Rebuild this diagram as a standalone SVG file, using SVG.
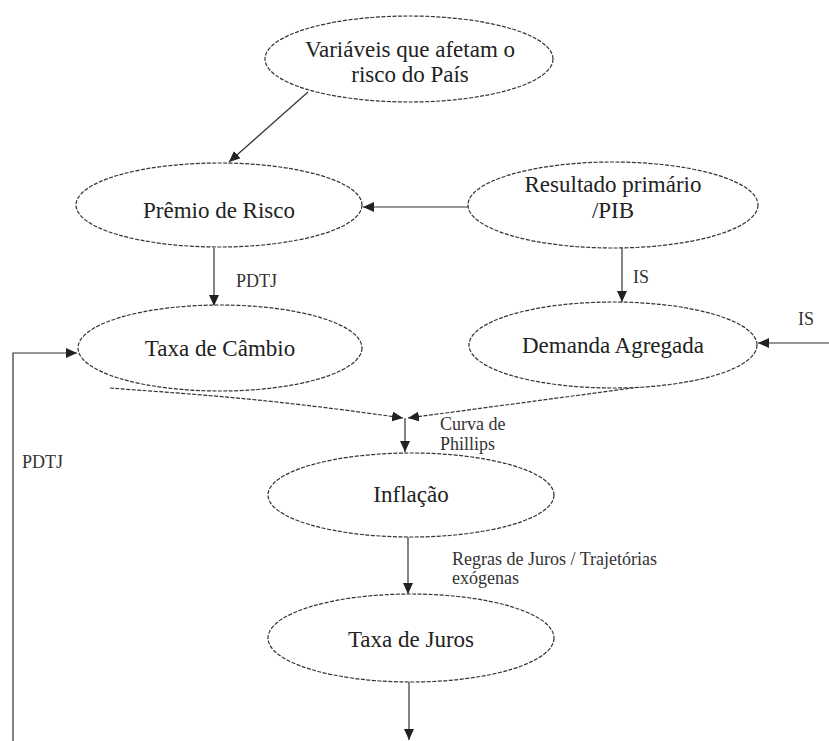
<svg xmlns="http://www.w3.org/2000/svg" width="829" height="741" viewBox="0 0 829 741">
<style>
.node ellipse{fill:#fff;stroke:#333;stroke-width:1.2;stroke-dasharray:4 1.5}
.node text{font-family:"Liberation Serif","Times New Roman",serif;font-size:23px;fill:#222;text-anchor:middle}
.lbl{font-family:"Liberation Serif","Times New Roman",serif;font-size:18px;fill:#333}
.c{fill:none;stroke:#333;stroke-width:1.2}
.cd{fill:none;stroke:#333;stroke-width:1.2;stroke-dasharray:4 1.5}
</style>
<defs>
<marker id="ah" markerUnits="userSpaceOnUse" markerWidth="12" markerHeight="10" refX="11" refY="5" orient="auto">
<path d="M0,0 L11,5 L0,10 z" fill="#222"/>
</marker>
</defs>
<rect width="829" height="741" fill="#fff"/>
<g id="connectors">
<line class="c" x1="308" y1="92" x2="229" y2="162" marker-end="url(#ah)"/>
<line class="c" x1="469" y1="207" x2="363" y2="207" marker-end="url(#ah)"/>
<line class="c" x1="214" y1="248" x2="214" y2="306" marker-end="url(#ah)"/>
<line class="c" x1="622" y1="248" x2="622" y2="302" marker-end="url(#ah)"/>
<line class="c" x1="829" y1="343" x2="758" y2="343" marker-end="url(#ah)"/>
<path class="c" d="M13,741 V353 H77" marker-end="url(#ah)"/>
<path class="cd" d="M110,388 C170,393 250,396 403,418" marker-end="url(#ah)"/>
<path class="cd" d="M700,379 L408,418" marker-end="url(#ah)"/>
<line class="c" x1="405" y1="418" x2="405" y2="452" marker-end="url(#ah)"/>
<line class="c" x1="408" y1="537" x2="408" y2="594" marker-end="url(#ah)"/>
<line class="c" x1="409" y1="682" x2="409" y2="740" marker-end="url(#ah)"/>
<text class="lbl" x="236" y="287">PDTJ</text>
<text class="lbl" x="633" y="283">IS</text>
<text class="lbl" x="798" y="325">IS</text>
<text class="lbl" x="22" y="468">PDTJ</text>
<text class="lbl" x="440" y="430">Curva de</text>
<text class="lbl" x="440" y="450">Phillips</text>
<text class="lbl" x="452" y="565">Regras de Juros / Trajetórias</text>
<text class="lbl" x="452" y="584">exógenas</text>
</g>
<g id="n-variaveis" class="node">
<ellipse cx="409" cy="59" rx="144" ry="43"/>
<text x="410" y="57">Variáveis que afetam o</text>
<text x="410" y="82">risco do País</text>
</g>
<g id="n-premio" class="node">
<ellipse cx="219" cy="205" rx="143" ry="42"/>
<text x="219" y="218">Prêmio de Risco</text>
</g>
<g id="n-resultado" class="node">
<ellipse cx="613" cy="205" rx="145" ry="43"/>
<text x="613" y="192">Resultado primário</text>
<text x="613" y="218">/PIB</text>
</g>
<g id="n-cambio" class="node">
<ellipse cx="220" cy="348" rx="142" ry="43"/>
<text x="220" y="356">Taxa de Câmbio</text>
</g>
<g id="n-demanda" class="node">
<ellipse cx="613" cy="345" rx="144" ry="43"/>
<text x="613" y="353">Demanda Agregada</text>
</g>
<g id="n-inflacao" class="node">
<ellipse cx="411" cy="495" rx="143" ry="42"/>
<text x="411" y="502">Inflação</text>
</g>
<g id="n-juros" class="node">
<ellipse cx="411" cy="638" rx="143" ry="44"/>
<text x="411" y="647">Taxa de Juros</text>
</g>
</svg>
